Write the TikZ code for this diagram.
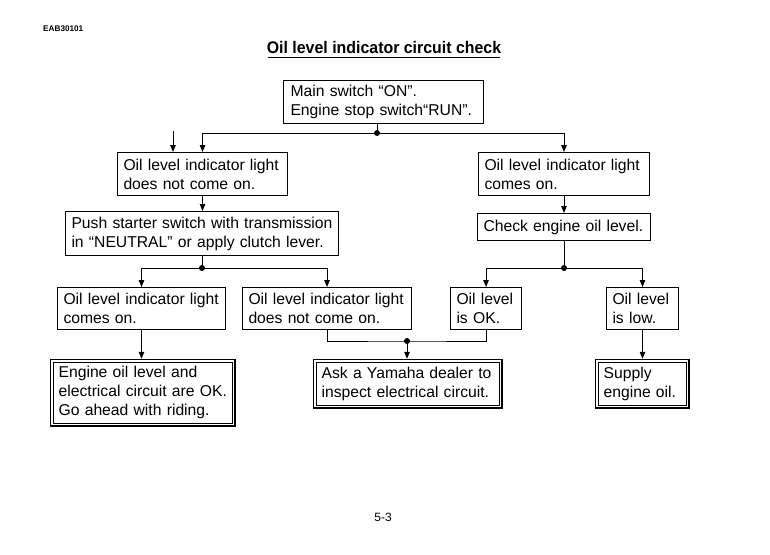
\documentclass[tikz,border=0pt]{standalone}
\usepackage{fontspec}
\setmainfont{Liberation Sans}
\usetikzlibrary{arrows.meta}
\begin{document}
\begin{tikzpicture}[x=1pt,y=-1pt,
  box/.style={draw,line width=1pt,anchor=north west,align=left,inner xsep=6pt,inner ysep=0pt,font=\fontsize{15.7}{19}\selectfont},
  dbox/.style={box,line width=1.6pt,inner xsep=8pt},
  inner/.style={line width=0.8pt},
  arr/.style={line width=1pt,-{Triangle[length=7pt,width=5.5pt]}},
  ln/.style={line width=1pt},
  jdot/.style={circle,fill,inner sep=0pt,minimum size=6pt}]

\useasboundingbox[fill=white] (0,0) rectangle (770,554);

% header
\node[anchor=base west,inner sep=0pt,font=\fontsize{8.2}{9}\selectfont\bfseries] (code) at (43,31) {EAB30101};
\node[anchor=base,inner sep=0pt,font=\fontsize{16.8}{18}\selectfont\bfseries] (title) at (384,53) {\scalebox{0.947}[1]{Oil level indicator circuit check}};
\coordinate (ul1) at (268,57.5);
\coordinate (ul2) at (500,57.5);
\draw[line width=1.5pt] (ul1) -- (ul2);

% boxes
\node[box,text width=186pt,minimum height=43pt,inner xsep=7pt] (b1) at (283,80) {Main switch “ON”.\\Engine stop switch“RUN”.};
\node[box,text width=158pt,minimum height=43pt] (b2) at (117,152) {Oil level indicator light\\does not come on.};
\node[box,text width=159pt,minimum height=43pt] (b3) at (478,152) {Oil level indicator light\\comes on.};
\node[box,text width=261pt,minimum height=44pt] (b4) at (65,211) {Push starter switch with transmission\\in “NEUTRAL” or apply clutch lever.};
\node[box,text width=161pt,minimum height=27pt] (b5) at (477,213) {Check engine oil level.};
\node[box,text width=156pt,minimum height=42pt] (b6) at (57,287) {Oil level indicator light\\comes on.};
\node[box,text width=157pt,minimum height=42pt] (b7) at (242,287) {Oil level indicator light\\does not come on.};
\node[box,text width=59pt,minimum height=42pt] (b8) at (450,287) {Oil level\\is OK.};
\node[box,text width=60pt,minimum height=42pt] (b9) at (606,287) {Oil level\\is low.};
\node[dbox,text width=168.4pt,minimum height=66.4pt] (b10) at (49.8,358.8) {Engine oil level and\\electrical circuit are OK.\\Go ahead with riding.};
\node[dbox,text width=172.4pt,minimum height=48.4pt] (b11) at (312.8,358.8) {Ask a Yamaha dealer to\\inspect electrical circuit.};
\node[dbox,text width=77.4pt,minimum height=48.4pt] (b12) at (594.8,358.8) {Supply\\engine oil.};
\draw[inner] ([shift={(3.4pt,-3.4pt)}]b10.north west) rectangle ([shift={(-3.4pt,3.4pt)}]b10.south east);
\draw[inner] ([shift={(3.4pt,-3.4pt)}]b11.north west) rectangle ([shift={(-3.4pt,3.4pt)}]b11.south east);
\draw[inner] ([shift={(3.4pt,-3.4pt)}]b12.north west) rectangle ([shift={(-3.4pt,3.4pt)}]b12.south east);

% connectors
\coordinate (j1) at (377,133);
\draw[ln] (b1.south -| j1) -- (j1);
\draw[arr] (j1) -| (b2.north);
\draw[arr] (j1) -| (b3.north);
\node[jdot] (d1) at (j1) {};
\coordinate (x1) at (173,131);
\draw[arr] (x1) -- (x1 |- b2.north);

\draw[arr] (b2.south) -- (b2.south |- b4.north);
\draw[arr] (b3.south) -- (b3.south |- b5.north);

\coordinate (j2) at (b4.south |- 0,268);
\draw[ln] (b4.south) -- (j2);
\draw[arr] (j2) -| (b6.north);
\draw[arr] (j2) -| (b7.north);
\node[jdot] (d2) at (j2) {};

\coordinate (j3) at (b5.south |- 0,268);
\draw[ln] (b5.south) -- (j3);
\draw[arr] (j3) -| (b8.north);
\draw[arr] (j3) -| (b9.north);
\node[jdot] (d3) at (j3) {};

\coordinate (j4) at (407,341);
\draw[ln] (b7.south) |- (j4) -| (b8.south);
\draw[arr] (j4) -- (j4 |- b11.north);
\node[jdot] (d4) at (j4) {};

\draw[arr] (b6.south) -- (b6.south |- b10.north);
\draw[arr] (b9.south) -- (b9.south |- b12.north);

% page number
\node[anchor=base,inner sep=0pt,font=\fontsize{12}{14}\selectfont] (page) at (383,521) {5-3};
\end{tikzpicture}
\end{document}
